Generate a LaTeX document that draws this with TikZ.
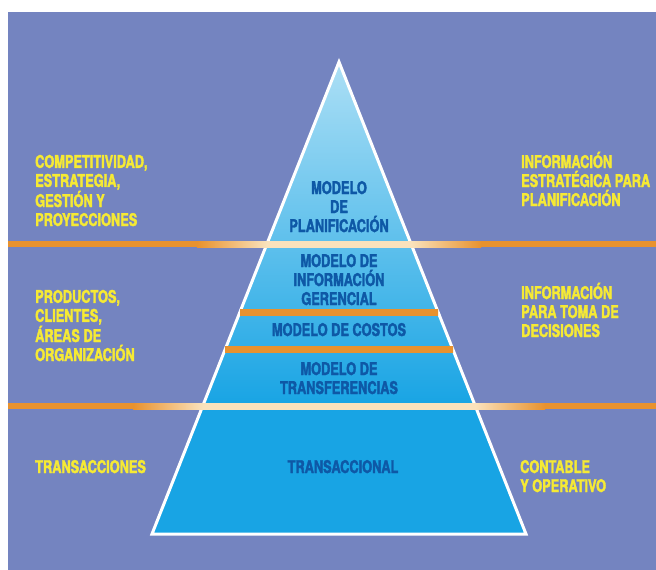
\documentclass[tikz,border=0pt]{standalone}
\usepackage{fontspec}
\setmainfont{TeX Gyre Heros}[FakeStretch=0.73, BoldFeatures={FakeBold=2}]
\usepackage{tikz}
\usepackage{xcolor}
\definecolor{panelblue}{RGB}{116,132,192}
\definecolor{pyrtop}{RGB}{172,223,245}
\definecolor{pyrbot}{RGB}{24,164,228}
\definecolor{layerblue}{RGB}{14,88,166}
\definecolor{sideyellow}{RGB}{246,234,52}
\definecolor{bandorange}{RGB}{232,146,46}
\definecolor{bandcream}{RGB}{250,226,188}

\begin{document}
\begin{tikzpicture}[x=1pt, y=-1pt,
  side/.style={anchor=base west, align=left, inner sep=0pt, text=sideyellow,
               font=\fontsize{17.5}{19}\selectfont\bfseries},
  layer/.style={anchor=base, align=center, inner sep=0pt, text=layerblue,
                font=\fontsize{17.5}{19}\selectfont\bfseries},
  edge/.style={draw=white, line width=3pt, line join=miter}
]
\useasboundingbox (0,0) rectangle (656,570);
\fill[white] (0,0) rectangle (656,570);
\fill[panelblue] (8,12) rectangle (656,570);

% pyramid
\coordinate (apex)      at (339,62);
\coordinate (baseleft)  at (152,534);
\coordinate (baseright) at (526,534);
\begin{scope}
  \clip (apex) -- (baseleft) -- (baseright) -- cycle;
  \shade[top color=pyrtop, bottom color=pyrbot] (152,62) rectangle (526,406);
  \fill[pyrbot] (152,406) rectangle (526,534);
\end{scope}
\draw[edge] (apex) -- (baseleft) -- (baseright) -- cycle;

% full-width bands, pale where they cross the pyramid
\foreach \y/\a/\b in {244/267/411, 406/203/475} {
  \fill[bandorange] (8,\y-3) rectangle (\a-70,\y+3);
  \shade[left color=bandorange, right color=bandcream] (\a-70,\y-3) rectangle (\a,\y+3);
  \shade[left color=bandcream, middle color=white, right color=bandcream] (\a,\y-3) rectangle (\b,\y+3);
  \shade[left color=bandcream, right color=bandorange] (\b,\y-3) rectangle (\b+70,\y+3);
  \fill[bandorange] (\b+70,\y-3) rectangle (656,\y+3);
}
% bands inside the pyramid only
\foreach \y/\a/\b in {312/240/438, 349/225/453}
  \shade[left color=bandorange, middle color=bandcream, right color=bandorange] (\a,\y-3) rectangle (\b,\y+3);

% layers (placed at the baseline of their last line)
\node[layer] (planificacion)  at (339,232) {MODELO\\DE\\PLANIFICACIÓN};
\node[layer] (gerencial)      at (339,305) {MODELO DE\\INFORMACIÓN\\GERENCIAL};
\node[layer] (costos)         at (339,336) {MODELO DE COSTOS};
\node[layer] (transferencias) at (339,394) {MODELO DE\\TRANSFERENCIAS};
\node[layer] (transaccional)  at (343,473) {TRANSACCIONAL};

% left column
\node[side] (competitividad) at (35,226) {COMPETITIVIDAD,\\ESTRATEGIA,\\GESTIÓN Y\\PROYECCIONES};
\node[side] (productos)      at (35,361) {PRODUCTOS,\\CLIENTES,\\ÁREAS DE\\ORGANIZACIÓN};
\node[side] (transacciones)  at (35,473) {TRANSACCIONES};

% right column
\node[side] (estrategica) at (521,206) {INFORMACIÓN\\ESTRATÉGICA PARA\\PLANIFICACIÓN};
\node[side] (decisiones)  at (521,337) {INFORMACIÓN\\PARA TOMA DE\\DECISIONES};
\node[side] (contable)    at (520,492) {CONTABLE\\Y OPERATIVO};
\end{tikzpicture}
\end{document}
